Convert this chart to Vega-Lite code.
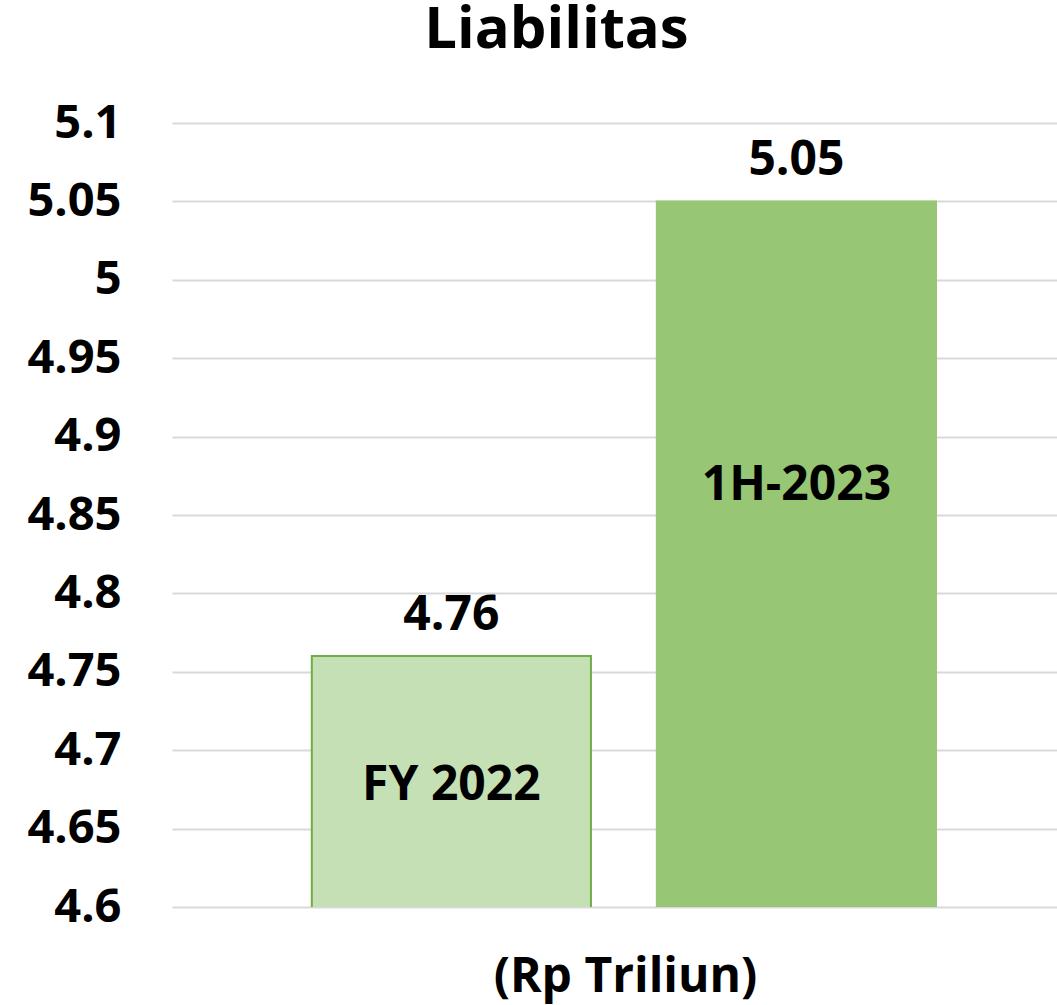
{
  "$schema": "https://vega.github.io/schema/vega-lite/v6.json",
  "width": 885,
  "height": 784,
  "autosize": {"type": "none"},
  "padding": {"left": 172, "top": 123, "right": 0, "bottom": 98},
  "background": "white",
  "config": {
    "font": "Open Sans",
    "view": {"stroke": null}
  },
  "title": {
    "text": "Liabilitas",
    "font": "Open Sans",
    "fontSize": 58,
    "fontWeight": "bold",
    "color": "#000000",
    "anchor": "middle",
    "dx": -58,
    "offset": -7,
    "baseline": "alphabetic"
  },
  "data": {
    "values": [
      {"period": "FY 2022", "value": 4.76},
      {"period": "1H-2023", "value": 5.05}
    ]
  },
  "encoding": {
    "x": {
      "field": "period",
      "type": "nominal",
      "sort": null,
      "scale": {"paddingInner": 0.191, "paddingOuter": 0.378, "align": 0.536},
      "axis": {
        "title": "(Rp Triliun)",
        "titleFont": "Open Sans",
        "titleFontSize": 48,
        "titleFontWeight": "bold",
        "titleColor": "#000000",
        "titleX": 453,
        "titleY": 84,
        "titleBaseline": "alphabetic",
        "labels": false,
        "ticks": false,
        "domain": false
      }
    }
  },
  "layer": [
    {
      "mark": {"type": "bar", "strokeWidth": 2, "clip": true},
      "encoding": {
        "y": {
          "field": "value",
          "type": "quantitative",
          "scale": {"domain": [4.6, 5.1], "zero": false, "nice": false},
          "axis": {
            "title": null,
            "values": [4.6, 4.65, 4.7, 4.75, 4.8, 4.85, 4.9, 4.95, 5, 5.05, 5.1],
            "labelExpr": "format(datum.value, '.2~f')",
            "labelFont": "Open Sans",
            "labelFontSize": 47,
            "labelFontWeight": "bold",
            "labelColor": "#000000",
            "labelPadding": 51,
            "ticks": false,
            "domain": false,
            "grid": true,
            "gridColor": "#D9D9D9",
            "gridWidth": 2
          }
        },
        "fill": {
          "field": "period",
          "type": "nominal",
          "scale": {"domain": ["FY 2022", "1H-2023"], "range": ["#C5E0B4", "#97C675"]},
          "legend": null
        },
        "stroke": {
          "field": "period",
          "type": "nominal",
          "scale": {"domain": ["FY 2022", "1H-2023"], "range": ["#70AD47", "#97C675"]},
          "legend": null
        }
      }
    },
    {
      "mark": {"type": "text", "font": "Open Sans", "fontSize": 48, "fontWeight": "bold", "color": "#000000", "baseline": "alphabetic", "dy": -26},
      "encoding": {
        "y": {"field": "value", "type": "quantitative"},
        "text": {"field": "value", "type": "quantitative", "format": ".2f"}
      }
    },
    {
      "transform": [{"filter": "datum.period === 'FY 2022'"}],
      "mark": {"type": "text", "font": "Open Sans", "fontSize": 48, "fontWeight": "bold", "color": "#000000", "baseline": "alphabetic", "dy": 144},
      "encoding": {
        "y": {"field": "value", "type": "quantitative"},
        "text": {"field": "period", "type": "nominal"}
      }
    },
    {
      "transform": [{"filter": "datum.period === '1H-2023'"}],
      "mark": {"type": "text", "font": "Open Sans", "fontSize": 48, "fontWeight": "bold", "color": "#000000", "baseline": "alphabetic", "dy": 299},
      "encoding": {
        "y": {"field": "value", "type": "quantitative"},
        "text": {"field": "period", "type": "nominal"}
      }
    }
  ]
}
